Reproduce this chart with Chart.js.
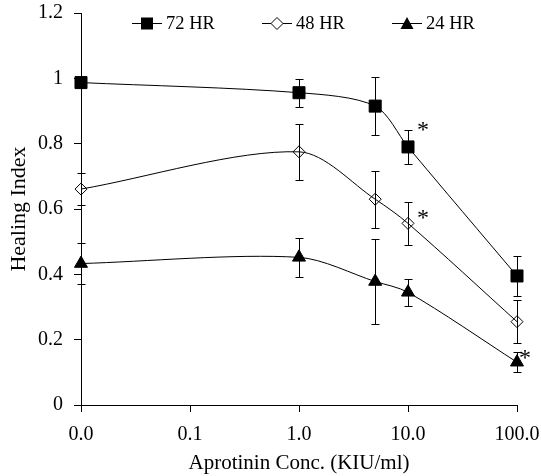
<!DOCTYPE html>
<html><head><meta charset="utf-8">
<script src="https://cdn.jsdelivr.net/npm/chart.js@4/dist/chart.umd.min.js"></script>
<style>html,body{margin:0;padding:0;background:#fff}#wrap{width:541px;height:476px;position:relative}</style>
</head><body><div id="wrap"><canvas id="c"></canvas></div>
<script>
// ---- data ----
const concentrations = [0.01, 1, 5, 10, 100]; // control plotted at 0.01 (shown as "0.0")
const seriesLabels = ['72 HR', '48 HR', '24 HR'];
const hr72 = [0.987, 0.956, 0.915, 0.790, 0.395];
const hr72Err = [0.015, 0.043, 0.090, 0.053, 0.062];
const hr48 = [0.661, 0.775, 0.630, 0.556, 0.255];
const hr48Err = [0.050, 0.085, 0.087, 0.065, 0.066];
const hr24 = [0.433, 0.452, 0.378, 0.345, 0.131];
const hr24Err = [0.062, 0.059, 0.130, 0.042, 0.030];
const sig72 = [false, false, false, true, false];
const sig48 = [false, false, false, true, false];
const sig24 = [false, false, false, false, true];
const xTickValues = [0.01, 0.1, 1, 10, 100];
const xTickLabels = ['0.0', '0.1', '1.0', '10.0', '100.0'];
const yTickValues = [0, 0.2, 0.4, 0.6, 0.8, 1.0, 1.2];
const yTickLabels = ['0', '0.2', '0.4', '0.6', '0.8', '1', '1.2'];

const FONT = '"Liberation Serif", "Times New Roman", serif';
const toPts = (vals) => concentrations.map((x, i) => ({x: x, y: vals[i]}));

const datasets = [
  {label: seriesLabels[0], data: toPts(hr72), err: hr72Err, sig: sig72,
   pointStyle: 'rect', pointRadius: 8.5, backgroundColor: '#000', borderColor: '#000',
   sigOffset: [15, -20], legendShape: 'square'},
  {label: seriesLabels[1], data: toPts(hr48), err: hr48Err, sig: sig48,
   pointStyle: 'rectRot', pointRadius: 6, backgroundColor: 'rgba(255,255,255,0)', borderColor: '#000',
   sigOffset: [15, -9], legendShape: 'diamond'},
  {label: seriesLabels[2], data: toPts(hr24), err: hr24Err, sig: sig24,
   pointStyle: 'triangle', pointRadius: 7.5, backgroundColor: '#000', borderColor: '#000',
   sigOffset: [8, -8], legendShape: 'triangle'}
].map(d => Object.assign({
  borderWidth: 1, pointBorderWidth: 1, tension: 0.3, fill: false, clip: false,
  pointBackgroundColor: d.backgroundColor, pointBorderColor: '#000', pointHoverRadius: d.pointRadius
}, d));

const errorBarPlugin = {
  id: 'errorBars',
  afterDatasetsDraw(chart) {
    const ctx = chart.ctx, xs = chart.scales.x, ys = chart.scales.y;
    ctx.save();
    ctx.strokeStyle = '#000'; ctx.lineWidth = 1;
    chart.data.datasets.forEach(ds => {
      ds.data.forEach((p, i) => {
        const e = ds.err[i];
        if (!e) return;
        const px = Math.round(xs.getPixelForValue(p.x)) + 0.5;
        const top = Math.round(ys.getPixelForValue(p.y + e)) + 0.5;
        const bot = Math.round(ys.getPixelForValue(p.y - e)) + 0.5;
        ctx.beginPath();
        ctx.moveTo(px, top); ctx.lineTo(px, bot);
        ctx.moveTo(px - 4, top); ctx.lineTo(px + 4, top);
        ctx.moveTo(px - 4, bot); ctx.lineTo(px + 4, bot);
        ctx.stroke();
      });
    });
    // significance asterisks, glyph centred on the offset position
    ctx.fillStyle = '#000';
    ctx.font = '24px ' + FONT;
    ctx.textAlign = 'center';
    ctx.textBaseline = 'alphabetic';
    const m = ctx.measureText('*');
    const asc = m.actualBoundingBoxAscent || 16, desc = m.actualBoundingBoxDescent || -6;
    const shift = (asc - desc) / 2;
    chart.data.datasets.forEach(ds => {
      ds.data.forEach((p, i) => {
        if (!ds.sig[i]) return;
        const px = xs.getPixelForValue(p.x) + ds.sigOffset[0];
        const py = ys.getPixelForValue(p.y) + ds.sigOffset[1];
        ctx.fillText('*', px, py + shift);
      });
    });
    ctx.restore();
  }
};

const legendPlugin = {
  id: 'customLegend',
  afterDraw(chart) {
    const ctx = chart.ctx;
    const y = 23.5, x0 = 132, step = 130, lineLen = 30;
    ctx.save();
    ctx.strokeStyle = '#000'; ctx.lineWidth = 1;
    ctx.font = '18.5px ' + FONT;
    ctx.textBaseline = 'middle'; ctx.textAlign = 'left'; ctx.fillStyle = '#000';
    chart.data.datasets.forEach((ds, i) => {
      const sx = x0 + i * step, cx = sx + lineLen / 2;
      ctx.beginPath(); ctx.moveTo(sx, y); ctx.lineTo(sx + lineLen, y); ctx.stroke();
      ctx.beginPath();
      if (ds.legendShape === 'square') {
        ctx.rect(cx - 6, y - 6, 12, 12); ctx.fillStyle = '#000'; ctx.fill();
      } else if (ds.legendShape === 'diamond') {
        ctx.moveTo(cx - 6, y); ctx.lineTo(cx, y - 6); ctx.lineTo(cx + 6, y); ctx.lineTo(cx, y + 6); ctx.closePath();
        ctx.fillStyle = '#fff'; ctx.fill(); ctx.stroke();
      } else {
        ctx.moveTo(cx, y - 6.5); ctx.lineTo(cx + 6.5, y + 5.5); ctx.lineTo(cx - 6.5, y + 5.5); ctx.closePath();
        ctx.fillStyle = '#000'; ctx.fill();
      }
      ctx.fillStyle = '#000';
      ctx.fillText(ds.label, sx + lineLen + 4, y + 1);
    });
    ctx.restore();
  }
};

new Chart(document.getElementById('c'), {
  type: 'line',
  data: {datasets},
  plugins: [errorBarPlugin, legendPlugin],
  options: {
    responsive: true, maintainAspectRatio: false, animation: false,
    layout: {padding: {top: 13, right: 24, left: 0, bottom: 0}},
    plugins: {legend: {display: false}, tooltip: {enabled: false}},
    scales: {
      x: {
        type: 'logarithmic', position: 'bottom', min: 0.01, max: 100,
        afterBuildTicks: s => { s.ticks = xTickValues.map(v => ({value: v})); },
        afterFit: s => { s.height = 71; s.paddingLeft = 0; s.paddingRight = 0; },
        ticks: {autoSkip: false, maxRotation: 0, padding: 11, color: '#000',
                font: {family: FONT, size: 20},
                callback: (v, i) => xTickLabels[i]},
        grid: {drawOnChartArea: false, drawTicks: true, tickLength: 7, color: '#000', lineWidth: 1},
        border: {color: '#000', width: 1},
        title: {display: true, text: 'Aprotinin Conc. (KIU/ml)', color: '#000',
                font: {family: FONT, size: 21}, padding: {top: 0, bottom: 0}}
      },
      y: {
        type: 'linear', min: 0, max: 1.2,
        afterBuildTicks: s => { s.ticks = yTickValues.map(v => ({value: v})); },
        afterFit: s => { s.width = 81; s.paddingTop = 0; s.paddingBottom = 0; },
        ticks: {padding: 11, color: '#000', font: {family: FONT, size: 20},
                callback: (v, i) => yTickLabels[i]},
        grid: {drawOnChartArea: false, drawTicks: true, tickLength: 7, color: '#000', lineWidth: 1},
        border: {color: '#000', width: 1},
        title: {display: true, text: 'Healing Index', color: '#000',
                font: {family: FONT, size: 22}, padding: {top: 6, bottom: 0}}
      }
    }
  }
});
</script></body></html>
